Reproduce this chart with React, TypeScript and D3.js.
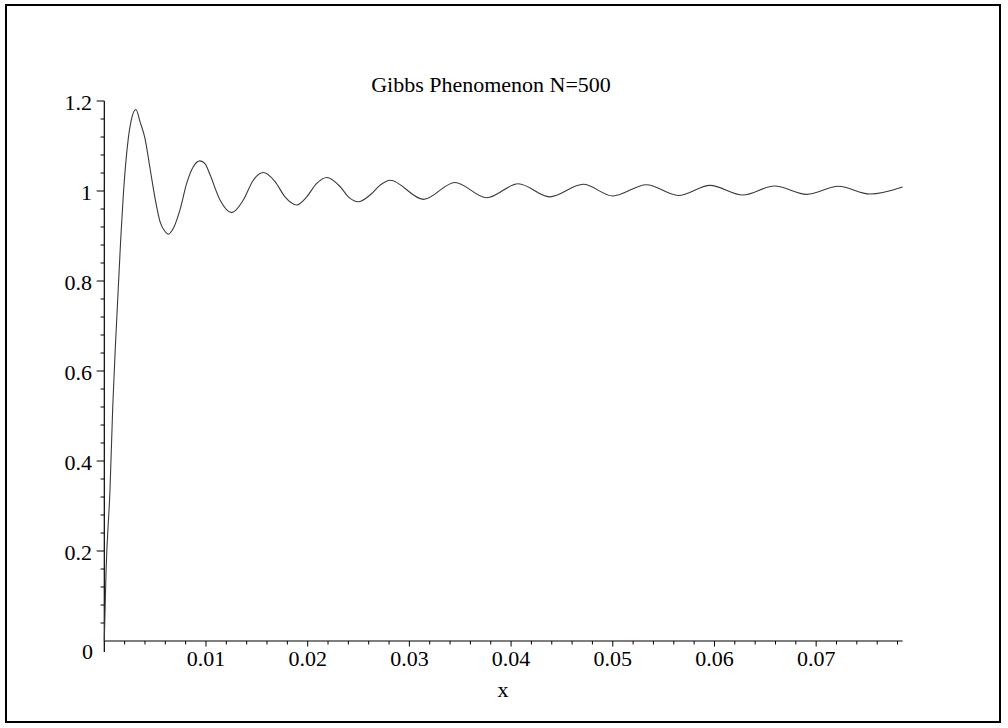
import React from "react";
import * as d3 from "d3";

// Curve values
const xValues = [
  0, 0.000167, 0.00056, 0.00083, 0.00112, 0.00161, 0.00187, 0.00236, 0.0027, 0.00311,
  0.00351, 0.004, 0.0045, 0.00499, 0.00548, 0.00597, 0.00629, 0.00679, 0.00744, 0.0081,
  0.00875, 0.00941, 0.0099, 0.0104, 0.01138, 0.01253, 0.01367, 0.01465, 0.01563, 0.01679,
  0.01777, 0.01892, 0.0199, 0.02089, 0.02187, 0.02318, 0.024, 0.02497, 0.02613, 0.02712,
  0.0281, 0.03138, 0.03448, 0.0376, 0.0407, 0.0438, 0.0471, 0.05, 0.0533, 0.05645,
  0.05956, 0.0628, 0.0659, 0.0691, 0.0722, 0.0753, 0.0785,
];
const yValues = [
  0, 0.151, 0.336, 0.52, 0.669, 0.891, 0.991, 1.117, 1.162, 1.181,
  1.154, 1.117, 1.05, 0.984, 0.932, 0.91, 0.904, 0.917, 0.958, 1.017,
  1.054, 1.067, 1.061, 1.036, 0.98, 0.952, 0.98, 1.024, 1.041, 1.021,
  0.987, 0.969, 0.987, 1.017, 1.03, 1.01, 0.987, 0.976, 0.991, 1.013,
  1.024, 0.9815, 1.019, 0.985, 1.016, 0.987, 1.015, 0.989, 1.014, 0.99,
  1.0126, 0.991, 1.011, 0.9926, 1.0104, 0.9933, 1.009,
];

const xTickValues = [0.01, 0.02, 0.03, 0.04, 0.05, 0.06, 0.07];
const xTickLabels = ["0.01", "0.02", "0.03", "0.04", "0.05", "0.06", "0.07"];
const yTickValues = [0.2, 0.4, 0.6, 0.8, 1, 1.2];
const yTickLabels = ["0.2", "0.4", "0.6", "0.8", "1", "1.2"];

const title = "Gibbs Phenomenon N=500";
const xLabel = "x";
const X_MAX = 0.0785;

export default function App() {
  const W = 1008;
  const H = 728;
  const x = d3.scaleLinear().domain([0, X_MAX]).range([104.3, 902.6]);
  const y = d3.scaleLinear().domain([0, 1.2]).range([641, 101]);

  const pts: [number, number][] = xValues.map((v, i) => [v, yValues[i]]);
  const line = d3
    .line<[number, number]>()
    .x((d) => x(d[0]))
    .y((d) => y(d[1]))
    .curve(d3.curveMonotoneX);

  const xMinor = d3.range(0.002, X_MAX, 0.002).filter((v) => Math.abs(v / 0.01 - Math.round(v / 0.01)) > 1e-6);
  const yMinor = d3.range(0.04, 1.2001, 0.04).filter((v) => Math.abs(v / 0.2 - Math.round(v / 0.2)) > 1e-6);

  const font = "'Liberation Serif', 'Times New Roman', 'DejaVu Serif', serif";
  const ts = { fontFamily: font };
  const x0 = x(0);
  const y0 = y(0);

  return (
    <svg
      width={W}
      height={H}
      style={{ position: "absolute", left: 0, top: 0, background: "#fff" }}
    >
      <rect x={0} y={0} width={W} height={H} fill="#fff" />
      <rect x={6} y={5} width={994} height={717} fill="none" stroke="#000" strokeWidth={2} />

      <text x={491} y={92} textAnchor="middle" fontSize={22} fill="#000" style={ts}>
        {title}
      </text>

      {/* axes */}
      <line x1={x0} x2={x(X_MAX)} y1={y0} y2={y0} stroke="#000" strokeWidth={1.2} />
      <line x1={x0} x2={x0} y1={y(1.2)} y2={y0 + 11} stroke="#000" strokeWidth={1.2} />

      {xMinor.map((v) => (
        <line key={"xm" + v} x1={x(v)} x2={x(v)} y1={y0} y2={y0 + 3.5} stroke="#000" strokeWidth={1} />
      ))}
      {xTickValues.map((v, i) => (
        <g key={"xt" + v}>
          <line x1={x(v)} x2={x(v)} y1={y0} y2={y0 + 5.5} stroke="#000" strokeWidth={1} />
          <text x={x(v)} y={666} textAnchor="middle" fontSize={22} fill="#000" style={ts}>
            {xTickLabels[i]}
          </text>
        </g>
      ))}

      {yMinor.map((v) => (
        <line key={"ym" + v} x1={x0 - 3.7} x2={x0} y1={y(v)} y2={y(v)} stroke="#000" strokeWidth={1} />
      ))}
      {yTickValues.map((v, i) => (
        <g key={"yt" + v}>
          <line x1={x0 - 7.6} x2={x0} y1={y(v)} y2={y(v)} stroke="#000" strokeWidth={1} />
          <text x={92} y={y(v) + 9} textAnchor="end" fontSize={22} fill="#000" style={ts}>
            {yTickLabels[i]}
          </text>
        </g>
      ))}
      <text x={93} y={659} textAnchor="end" fontSize={22} fill="#000" style={ts}>
        0
      </text>

      <text x={503} y={697} textAnchor="middle" fontSize={22} fill="#000" style={ts}>
        {xLabel}
      </text>

      <path d={line(pts) || ""} fill="none" stroke="#3a3a3a" strokeWidth={1.1} />
    </svg>
  );
}
